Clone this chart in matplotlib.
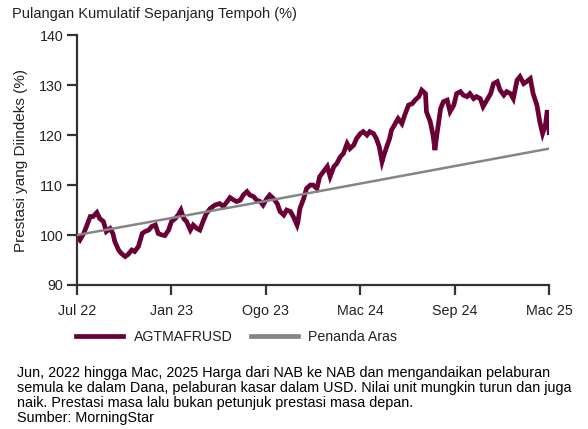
import matplotlib
matplotlib.use("Agg")
import matplotlib.pyplot as plt
from matplotlib.lines import Line2D

plt.rcParams['font.family'] = ['Liberation Sans', 'DejaVu Sans']

title = "Pulangan Kumulatif Sepanjang Tempoh (%)"
ylabel = "Prestasi yang Diindeks (%)"
tick_labels = ["Jul 22", "Jan 23", "Ogo 23", "Mac 24", "Sep 24", "Mac 25"]
yticks = [90, 100, 110, 120, 130, 140]

fund_name = "AGTMAFRUSD"
bench_name = "Penanda Aras"

# x in tick-interval units (0 = Jul 22 ... 5 = Mac 25)
fund_x = [0.00, 0.03, 0.07, 0.10, 0.14, 0.17, 0.21, 0.24, 0.28, 0.31, 0.35, 0.38, 0.40,
          0.44, 0.47, 0.51, 0.54, 0.58, 0.61, 0.65, 0.69, 0.72, 0.76, 0.79, 0.83, 0.86,
          0.90, 0.93, 0.97, 1.00, 1.04, 1.07, 1.10, 1.13, 1.16, 1.20, 1.23, 1.27, 1.30,
          1.34, 1.37, 1.41, 1.46, 1.51, 1.55, 1.59, 1.62, 1.66, 1.69, 1.73, 1.76, 1.80,
          1.83, 1.87, 1.90, 1.94, 1.97, 2.01, 2.04, 2.08, 2.12, 2.15, 2.19, 2.22, 2.26,
          2.29, 2.33, 2.34, 2.36, 2.40, 2.43, 2.47, 2.50, 2.54, 2.57, 2.61, 2.65, 2.68,
          2.72, 2.75, 2.79, 2.82, 2.86, 2.89, 2.93, 2.96, 3.00, 3.03, 3.07, 3.10, 3.14,
          3.17, 3.20, 3.23, 3.25, 3.28, 3.31, 3.33, 3.37, 3.40, 3.44, 3.47, 3.51, 3.55,
          3.58, 3.62, 3.65, 3.69, 3.70, 3.74, 3.77, 3.79, 3.81, 3.85, 3.88, 3.92, 3.95,
          3.99, 4.02, 4.06, 4.09, 4.13, 4.16, 4.20, 4.23, 4.27, 4.30, 4.34, 4.38, 4.41,
          4.45, 4.48, 4.52, 4.55, 4.59, 4.62, 4.66, 4.69, 4.73, 4.76, 4.80, 4.83, 4.87,
          4.90, 4.93, 4.96, 4.98, 5.00]
fund_y = [99.7, 99.0, 100.3, 101.7, 103.7, 103.7, 104.5, 103.3, 102.7, 100.7, 101.3, 100.3, 98.7,
          97.0, 96.3, 95.7, 96.1, 97.0, 96.7, 97.7, 100.3, 100.7, 101.0, 101.7, 102.0, 100.3,
          100.0, 99.9, 101.0, 102.7, 103.3, 104.0, 105.0, 103.3, 102.7, 101.0, 102.0, 101.3, 101.0,
          103.0, 104.3, 105.3, 106.0, 106.3, 105.7, 106.7, 107.5, 107.0, 106.7, 107.0, 108.0, 108.7,
          108.0, 107.7, 107.0, 106.7, 106.0, 107.3, 108.0, 107.3, 106.3, 104.7, 104.0, 105.0, 104.7,
          103.7, 102.0, 102.7, 105.3, 107.3, 109.3, 110.0, 110.0, 109.3, 111.7, 112.7, 113.7, 111.7,
          113.7, 114.3, 115.7, 116.3, 118.3, 117.3, 118.0, 119.3, 120.3, 120.7, 120.0, 120.7, 120.3,
          119.3, 117.7, 114.7, 116.0, 117.7, 119.3, 121.0, 122.3, 123.3, 122.3, 124.0, 126.0, 126.3,
          127.0, 127.7, 129.0, 128.3, 124.7, 122.7, 120.0, 117.0, 120.0, 125.3, 126.7, 127.0, 124.7,
          126.0, 128.3, 128.7, 128.0, 127.7, 128.3, 127.3, 127.7, 127.3, 125.7, 127.0, 128.3, 130.3,
          130.7, 129.0, 128.0, 128.7, 128.3, 127.3, 131.0, 131.7, 130.3, 130.7, 131.3, 128.3, 126.0,
          122.7, 120.3, 122.0, 125.0, 120.5]

bench_x = [0, 1, 2, 3, 4, 5]
bench_y = [100.0, 103.4, 106.8, 110.3, 113.8, 117.3]

footnote = ("Jun, 2022 hingga Mac, 2025 Harga dari NAB ke NAB dan mengandaikan pelaburan\n"
            "semula ke dalam Dana, pelaburan kasar dalam USD. Nilai unit mungkin turun dan juga\n"
            "naik. Prestasi masa lalu bukan petunjuk prestasi masa depan.\n"
            "Sumber: MorningStar")

fund_color = "#6b0037"
bench_color = "#858585"
axis_color = "#333333"
text_color = "#222222"

fig = plt.figure(figsize=(5.88, 4.29), dpi=100)
ax = fig.add_axes([0.131, 0.3357, 0.803, 0.5823])

ax.plot(bench_x, bench_y, color=bench_color, lw=1.8, zorder=3)
ax.plot(fund_x, fund_y, color=fund_color, lw=3.4, solid_joinstyle='miter', zorder=2)

ax.set_xlim(0, 5)
ax.set_ylim(90, 140)
ax.set_xticks(range(6))
ax.set_xticklabels(tick_labels)
ax.set_yticks(yticks)

for s in ['top', 'right']:
    ax.spines[s].set_visible(False)
for s in ['left', 'bottom']:
    ax.spines[s].set_color(axis_color)
    ax.spines[s].set_linewidth(1.6)
ax.tick_params(axis='both', direction='out', length=7, width=1.6, color=axis_color,
               labelsize=10.3, labelcolor=text_color, pad=3)
ax.tick_params(axis='x', pad=7)

ax.set_ylabel(ylabel, fontsize=11, color=text_color, labelpad=8)

fig.text(12 / 588, 1 - 14 / 429, title, fontsize=10.5, color=text_color, va='center', ha='left')

handles = [Line2D([0], [0], color=fund_color, lw=3.4),
           Line2D([0], [0], color=bench_color, lw=3.4)]
fig.legend(handles, [fund_name, bench_name], loc='center left',
           bbox_to_anchor=(0.108, 1 - 337 / 429), ncol=2, frameon=False,
           fontsize=10.2, handlelength=3.3, columnspacing=1.3, handletextpad=0.75,
           labelcolor=text_color)

fig.text(17 / 588, 1 - 366 / 429, footnote, fontsize=10.4, color='black',
         va='top', ha='left', linespacing=1.08)

fig.savefig("out.png", dpi=100)
